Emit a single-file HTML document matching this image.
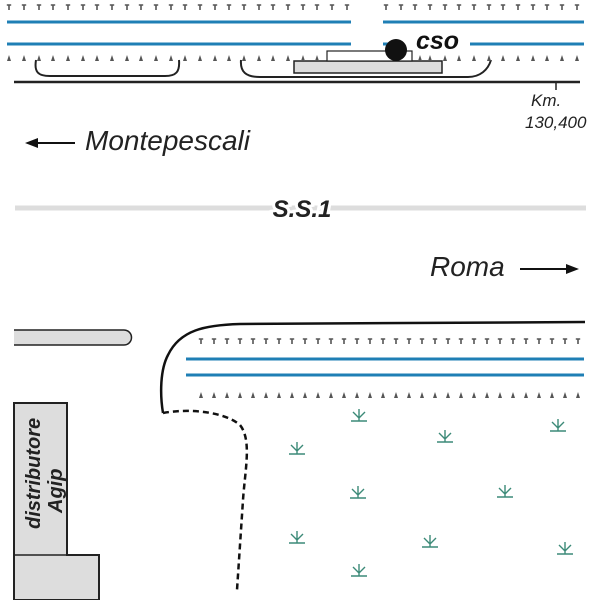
<!DOCTYPE html>
<html><head><style>body{margin:0;background:#fff}svg{display:block}</style></head><body>
<svg width="600" height="600" viewBox="0 0 600 600" xmlns="http://www.w3.org/2000/svg" font-family="Liberation Sans, sans-serif">
<defs>
<g id="td"><path d="M-2.2,0 H2.2 M0,0 V5" stroke="#555" stroke-width="1.6"/></g>
<g id="tu"><path d="M0,0 L-2,6 H2 Z" fill="#555"/></g>
<g id="gr" stroke="#3c8a78" stroke-width="1.4" fill="none"><path d="M-8,0 H8 M0,0 V-12 M0,-3 L-6,-9 M0,-3 L6,-9"/></g>
</defs>
<g stroke="#1f7fb5" stroke-width="3">
<line x1="7" y1="22" x2="351" y2="22"/><line x1="383" y1="22" x2="584" y2="22"/>
<line x1="7" y1="44" x2="351" y2="44"/><line x1="383" y1="44" x2="392" y2="44"/><line x1="470" y1="44" x2="584" y2="44"/>
</g>
<g fill="none" stroke="#222" stroke-width="2">
<path d="M36,60 C34,72 38,76 50,76 H165 C176,76 180,72 179,60"/>
<path d="M241,60 C240,72 246,77 260,77 H468 C480,77 488,70 491,60"/>
<line x1="14" y1="82" x2="580" y2="82" stroke-width="2.5"/>
<line x1="556" y1="82" x2="556" y2="90" stroke-width="1.5"/>
</g>
<rect x="294" y="61" width="148" height="12" fill="#ddd" stroke="#222" stroke-width="1.5"/>
<rect x="327" y="51" width="85" height="10" fill="#fff" stroke="#222" stroke-width="1.2"/>
<circle cx="396" cy="50" r="11" fill="#111"/>
<text x="416" y="49" font-size="25" font-weight="bold" font-style="italic" fill="#111">cso</text>
<text x="531" y="106" font-size="17" font-style="italic" fill="#222">Km.</text>
<text x="525" y="128" font-size="17" font-style="italic" fill="#222">130,400</text>
<line x1="36" y1="143" x2="75" y2="143" stroke="#111" stroke-width="2"/>
<path d="M25,143 L38,138 L38,148 Z" fill="#111"/>
<text x="85" y="150" font-size="28" font-style="italic" fill="#222">Montepescali</text>
<line x1="15" y1="208" x2="586" y2="208" stroke="#ddd" stroke-width="5"/>
<text x="302" y="217" font-size="24" font-weight="bold" font-style="italic" text-anchor="middle" fill="#222" stroke="#fff" stroke-width="6" paint-order="stroke">S.S.1</text>
<text x="430" y="276" font-size="28" font-style="italic" fill="#222">Roma</text>
<line x1="520" y1="269" x2="568" y2="269" stroke="#111" stroke-width="2"/>
<path d="M579,269 L566,264 L566,274 Z" fill="#111"/>
<path d="M14,330 H124 A7.5,7.5 0 0 1 124,345 H14" fill="#ddd" stroke="#222" stroke-width="1.5"/>
<path d="M163,413 C160,395 160,370 168,355 C180,330 205,325 240,324 L585,322" fill="none" stroke="#111" stroke-width="2.5"/>
<path d="M163,413 C190,408 225,412 240,425 C252,440 245,470 243,500 L237,590" fill="none" stroke="#111" stroke-width="2.5" stroke-dasharray="6,4"/>
<g stroke="#1f7fb5" stroke-width="3">
<line x1="186" y1="359" x2="584" y2="359"/><line x1="186" y1="375" x2="584" y2="375"/>
</g>
<path d="M14,403 H67 V555 H99 V600 H14 Z" fill="#ddd" stroke="#222" stroke-width="2"/>
<line x1="14" y1="555" x2="67" y2="555" stroke="#222" stroke-width="1.5"/>
<text transform="translate(40,529) rotate(-90)" font-size="20" font-weight="bold" font-style="italic" fill="#222">distributore</text>
<text transform="translate(62,513) rotate(-90)" font-size="20" font-weight="bold" font-style="italic" fill="#222">Agip</text>
<use href="#gr" x="359" y="421"/><use href="#gr" x="297" y="454"/><use href="#gr" x="445" y="442"/>
<use href="#gr" x="558" y="431"/><use href="#gr" x="358" y="498"/><use href="#gr" x="505" y="497"/>
<use href="#gr" x="297" y="543"/><use href="#gr" x="430" y="547"/><use href="#gr" x="565" y="554"/>
<use href="#gr" x="359" y="576"/>
<g>
<use href="#td" x="9" y="5"/><use href="#td" x="24" y="5"/><use href="#td" x="39" y="5"/><use href="#td" x="53" y="5"/><use href="#td" x="68" y="5"/><use href="#td" x="83" y="5"/><use href="#td" x="97" y="5"/><use href="#td" x="112" y="5"/><use href="#td" x="127" y="5"/><use href="#td" x="141" y="5"/><use href="#td" x="156" y="5"/><use href="#td" x="171" y="5"/><use href="#td" x="185" y="5"/><use href="#td" x="200" y="5"/><use href="#td" x="215" y="5"/><use href="#td" x="229" y="5"/><use href="#td" x="244" y="5"/><use href="#td" x="259" y="5"/><use href="#td" x="273" y="5"/><use href="#td" x="288" y="5"/><use href="#td" x="303" y="5"/><use href="#td" x="317" y="5"/><use href="#td" x="332" y="5"/><use href="#td" x="347" y="5"/>
<use href="#td" x="386" y="5"/><use href="#td" x="401" y="5"/><use href="#td" x="415" y="5"/><use href="#td" x="430" y="5"/><use href="#td" x="445" y="5"/><use href="#td" x="459" y="5"/><use href="#td" x="474" y="5"/><use href="#td" x="489" y="5"/><use href="#td" x="503" y="5"/><use href="#td" x="518" y="5"/><use href="#td" x="533" y="5"/><use href="#td" x="547" y="5"/><use href="#td" x="562" y="5"/><use href="#td" x="577" y="5"/>
</g>
<g>
<use href="#tu" x="9" y="55"/><use href="#tu" x="24" y="55"/><use href="#tu" x="39" y="55"/><use href="#tu" x="53" y="55"/><use href="#tu" x="68" y="55"/><use href="#tu" x="83" y="55"/><use href="#tu" x="97" y="55"/><use href="#tu" x="112" y="55"/><use href="#tu" x="127" y="55"/><use href="#tu" x="141" y="55"/><use href="#tu" x="156" y="55"/><use href="#tu" x="171" y="55"/><use href="#tu" x="185" y="55"/><use href="#tu" x="200" y="55"/><use href="#tu" x="215" y="55"/><use href="#tu" x="229" y="55"/><use href="#tu" x="244" y="55"/><use href="#tu" x="259" y="55"/><use href="#tu" x="273" y="55"/><use href="#tu" x="288" y="55"/><use href="#tu" x="303" y="55"/><use href="#tu" x="317" y="55"/><use href="#tu" x="420" y="55"/><use href="#tu" x="430" y="55"/><use href="#tu" x="445" y="55"/><use href="#tu" x="459" y="55"/><use href="#tu" x="474" y="55"/><use href="#tu" x="489" y="55"/><use href="#tu" x="503" y="55"/><use href="#tu" x="518" y="55"/><use href="#tu" x="533" y="55"/><use href="#tu" x="547" y="55"/><use href="#tu" x="562" y="55"/><use href="#tu" x="577" y="55"/>
</g>
<g>
<use href="#td" x="201" y="339"/><use href="#td" x="214" y="339"/><use href="#td" x="227" y="339"/><use href="#td" x="240" y="339"/><use href="#td" x="253" y="339"/><use href="#td" x="266" y="339"/><use href="#td" x="279" y="339"/><use href="#td" x="292" y="339"/><use href="#td" x="305" y="339"/><use href="#td" x="318" y="339"/><use href="#td" x="331" y="339"/><use href="#td" x="344" y="339"/><use href="#td" x="357" y="339"/><use href="#td" x="370" y="339"/><use href="#td" x="383" y="339"/><use href="#td" x="396" y="339"/><use href="#td" x="409" y="339"/><use href="#td" x="422" y="339"/><use href="#td" x="435" y="339"/><use href="#td" x="448" y="339"/><use href="#td" x="461" y="339"/><use href="#td" x="474" y="339"/><use href="#td" x="487" y="339"/><use href="#td" x="500" y="339"/><use href="#td" x="513" y="339"/><use href="#td" x="526" y="339"/><use href="#td" x="539" y="339"/><use href="#td" x="552" y="339"/><use href="#td" x="565" y="339"/><use href="#td" x="578" y="339"/>
</g>
<g>
<use href="#tu" x="201" y="392"/><use href="#tu" x="214" y="392"/><use href="#tu" x="227" y="392"/><use href="#tu" x="240" y="392"/><use href="#tu" x="253" y="392"/><use href="#tu" x="266" y="392"/><use href="#tu" x="279" y="392"/><use href="#tu" x="292" y="392"/><use href="#tu" x="305" y="392"/><use href="#tu" x="318" y="392"/><use href="#tu" x="331" y="392"/><use href="#tu" x="344" y="392"/><use href="#tu" x="357" y="392"/><use href="#tu" x="370" y="392"/><use href="#tu" x="383" y="392"/><use href="#tu" x="396" y="392"/><use href="#tu" x="409" y="392"/><use href="#tu" x="422" y="392"/><use href="#tu" x="435" y="392"/><use href="#tu" x="448" y="392"/><use href="#tu" x="461" y="392"/><use href="#tu" x="474" y="392"/><use href="#tu" x="487" y="392"/><use href="#tu" x="500" y="392"/><use href="#tu" x="513" y="392"/><use href="#tu" x="526" y="392"/><use href="#tu" x="539" y="392"/><use href="#tu" x="552" y="392"/><use href="#tu" x="565" y="392"/><use href="#tu" x="578" y="392"/>
</g>
</svg>
</body></html>
